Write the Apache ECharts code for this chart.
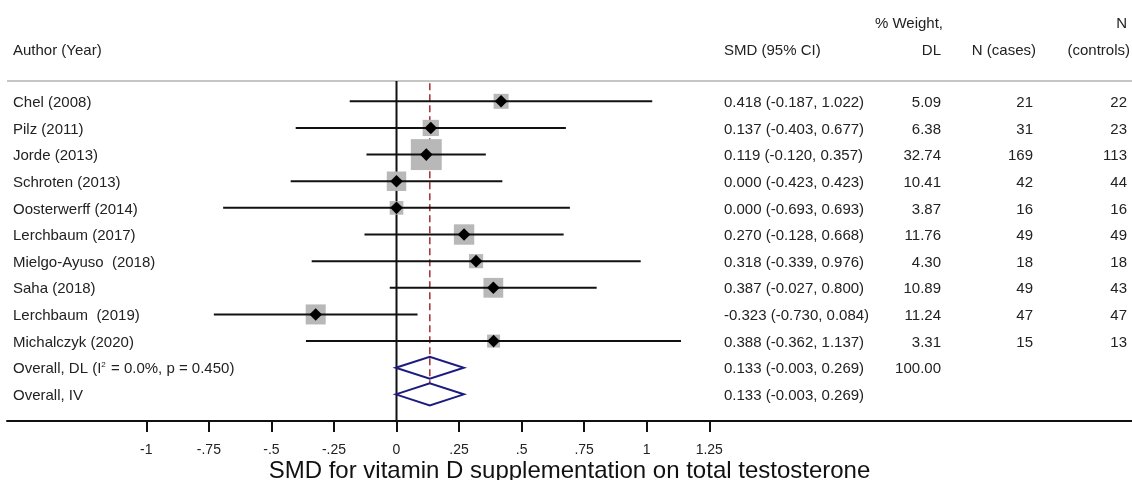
<!DOCTYPE html>
<html>
<head>
<meta charset="utf-8">
<script src="https://cdn.jsdelivr.net/npm/echarts@6/dist/echarts.min.js"></script>
<style>
  html, body { margin: 0; padding: 0; background: #fff; }
  #main { width: 1132px; height: 480px; }
</style>
</head>
<body>
<div id="main"></div>
<script>
// study level data
var authors = ['Chel (2008)', 'Pilz (2011)', 'Jorde (2013)', 'Schroten (2013)', 'Oosterwerff (2014)',
  'Lerchbaum (2017)', 'Mielgo-Ayuso  (2018)', 'Saha (2018)', 'Lerchbaum  (2019)', 'Michalczyk (2020)'];
var smd = [0.418, 0.137, 0.119, 0.000, 0.000, 0.270, 0.318, 0.387, -0.323, 0.388];
var ciLow = [-0.187, -0.403, -0.120, -0.423, -0.693, -0.128, -0.339, -0.027, -0.730, -0.362];
var ciHigh = [1.022, 0.677, 0.357, 0.423, 0.693, 0.668, 0.976, 0.800, 0.084, 1.137];
var weightDL = [5.09, 6.38, 32.74, 10.41, 3.87, 11.76, 4.30, 10.89, 11.24, 3.31];
var nCases = [21, 31, 169, 42, 16, 49, 18, 49, 47, 15];
var nControls = [22, 23, 113, 44, 16, 49, 18, 43, 47, 13];

// pooled estimates
var overallLabels = ['Overall, DL (I{sup|2} = 0.0%, p = 0.450)', 'Overall, IV'];
var overallEst = [0.133, 0.133];
var overallLow = [-0.003, -0.003];
var overallHigh = [0.269, 0.269];
var overallWeight = ['100.00', ''];

// axis ticks
var tickValues = [-1, -0.75, -0.5, -0.25, 0, 0.25, 0.5, 0.75, 1, 1.25];
var tickLabels = ['-1', '-.75', '-.5', '-.25', '0', '.25', '.5', '.75', '1', '1.25'];

// layout (pixels / row units)
var xMin = -1.5568, xMax = 2.9396;
var yMin = -3.8026, yMax = 12.0;
var headRow1 = -2.958, headRow2 = -1.944, topLineRow = -0.76;
var FONT = '"Liberation Sans", Arial, sans-serif';
var TXT = '#222';

var nStudy = authors.length;

// text table
var texts = [];
function addText(x, row, str, align){
  texts.push({x: x, row: row, text: str, align: align});
}
addText(13, headRow2, 'Author (Year)', 'left');
addText(724, headRow2, 'SMD (95% CI)', 'left');
addText(943, headRow1, '% Weight,', 'right');
addText(941, headRow2, 'DL', 'right');
addText(1036, headRow2, 'N (cases)', 'right');
addText(1127, headRow1, 'N', 'right');
addText(1130, headRow2, '(controls)', 'right');
for (var i = 0; i < nStudy; i++) {
  addText(13, i, authors[i], 'left');
  addText(724, i, smd[i].toFixed(3) + ' (' + ciLow[i].toFixed(3) + ', ' + ciHigh[i].toFixed(3) + ')', 'left');
  addText(941, i, weightDL[i].toFixed(2), 'right');
  addText(1033, i, String(nCases[i]), 'right');
  addText(1127, i, String(nControls[i]), 'right');
}
for (var j = 0; j < overallLabels.length; j++) {
  var r = nStudy + j;
  addText(13, r, overallLabels[j], 'left');
  addText(724, r, overallEst[j].toFixed(3) + ' (' + overallLow[j].toFixed(3) + ', ' + overallHigh[j].toFixed(3) + ')', 'left');
  if (overallWeight[j]) addText(941, r, overallWeight[j], 'right');
}

var studyData = [];
for (var i = 0; i < nStudy; i++) {
  studyData.push([smd[i], i, ciLow[i], ciHigh[i], weightDL[i]]);
}
var overallData = [];
for (var j = 0; j < overallEst.length; j++) {
  overallData.push([overallEst[j], nStudy + j, overallLow[j], overallHigh[j]]);
}

var myChart = echarts.init(document.getElementById('main'), null, {renderer: 'canvas'});

var option = {
  animation: false,
  backgroundColor: '#fff',
  textStyle: {fontFamily: FONT},
  grid: {left: 7, right: 0, top: 0, bottom: 59, containLabel: false, outerBoundsMode: 'none'},
  xAxis: {
    type: 'value',
    min: xMin,
    max: xMax,
    axisLine: {show: true, onZero: false, lineStyle: {color: '#111', width: 2}},
    axisTick: {show: true, customValues: tickValues, length: 11, lineStyle: {color: '#111', width: 2}},
    axisLabel: {
      customValues: tickValues,
      margin: 22,
      fontSize: 14,
      color: TXT,
      fontFamily: FONT,
      formatter: function (v) {
        for (var k = 0; k < tickValues.length; k++) {
          if (Math.abs(tickValues[k] - v) < 1e-9) return tickLabels[k];
        }
        return '';
      }
    },
    splitLine: {show: false},
    name: 'SMD for vitamin D supplementation on total testosterone',
    nameLocation: 'middle',
    nameGap: 38,
    nameMoveOverlap: false,
    nameTextStyle: {fontSize: 24, color: '#111', fontFamily: FONT}
  },
  yAxis: {
    type: 'value',
    min: yMin,
    max: yMax,
    inverse: true,
    show: false
  },
  series: [
    {
      // reference lines
      type: 'custom',
      silent: true,
      data: [[0]],
      renderItem: function (params, api) {
        var top = api.coord([xMin, topLineRow]);
        var topR = api.coord([xMax, topLineRow]);
        var z0 = api.coord([0, topLineRow]);
        var z1 = api.coord([0, yMax]);
        var d0 = api.coord([overallEst[0], topLineRow + 0.08]);
        var d1 = api.coord([overallEst[0], nStudy + 1 - 0.41]);
        return {
          type: 'group',
          children: [
            {type: 'line', shape: {x1: top[0], y1: top[1], x2: topR[0], y2: topR[1]},
              style: {stroke: '#c6c6c6', lineWidth: 2}},
            {type: 'line', shape: {x1: z0[0], y1: z0[1], x2: z1[0], y2: z1[1]},
              style: {stroke: '#111', lineWidth: 2}},
            {type: 'line', shape: {x1: d0[0], y1: d0[1], x2: d1[0], y2: d1[1]},
              style: {stroke: '#a8393c', lineWidth: 1.6, lineDash: [7, 4]}}
          ]
        };
      }
    },
    {
      // studies: box, CI line, point estimate
      type: 'custom',
      silent: true,
      data: studyData,
      renderItem: function (params, api) {
        var p = api.coord([api.value(0), api.value(1)]);
        var pl = api.coord([api.value(2), api.value(1)]);
        var ph = api.coord([api.value(3), api.value(1)]);
        var s = 4.6 + 4.6 * Math.sqrt(api.value(4));
        var m = 6.3;
        return {
          type: 'group',
          children: [
            {type: 'rect', shape: {x: p[0] - s / 2, y: p[1] - s / 2, width: s, height: s},
              style: {fill: '#b8b8b8'}},
            {type: 'line', shape: {x1: pl[0], y1: pl[1], x2: ph[0], y2: ph[1]},
              style: {stroke: '#111', lineWidth: 2}},
            {type: 'polygon', shape: {points: [[p[0] - m, p[1]], [p[0], p[1] - m], [p[0] + m, p[1]], [p[0], p[1] + m]]},
              style: {fill: '#000'}}
          ]
        };
      }
    },
    {
      // pooled diamonds
      type: 'custom',
      silent: true,
      data: overallData,
      renderItem: function (params, api) {
        var p = api.coord([api.value(0), api.value(1)]);
        var pl = api.coord([api.value(2), api.value(1)]);
        var ph = api.coord([api.value(3), api.value(1)]);
        var h = 11;
        return {
          type: 'polygon',
          shape: {points: [[pl[0], p[1]], [p[0], p[1] - h], [ph[0], p[1]], [p[0], p[1] + h]]},
          style: {fill: 'none', stroke: '#1c1c80', lineWidth: 2}
        };
      }
    },
    {
      // table text
      type: 'custom',
      silent: true,
      data: texts.map(function (t, k) { return [k]; }),
      renderItem: function (params, api) {
        var t = texts[params.dataIndex];
        var y = api.coord([0, t.row])[1] + 1.5;
        return {
          type: 'text',
          x: t.x,
          y: y,
          style: {
            text: t.text,
            fill: TXT,
            fontSize: 15,
            fontFamily: FONT,
            align: t.align,
            verticalAlign: 'middle',
            textAlign: t.align,
            textVerticalAlign: 'middle',
            rich: {
              sup: {fontSize: 8, fontFamily: FONT, fill: TXT, verticalAlign: 'top', padding: [0, 1, 9, 0]}
            }
          }
        };
      }
    }
  ]
};
myChart.setOption(option);
</script>
</body>
</html>
